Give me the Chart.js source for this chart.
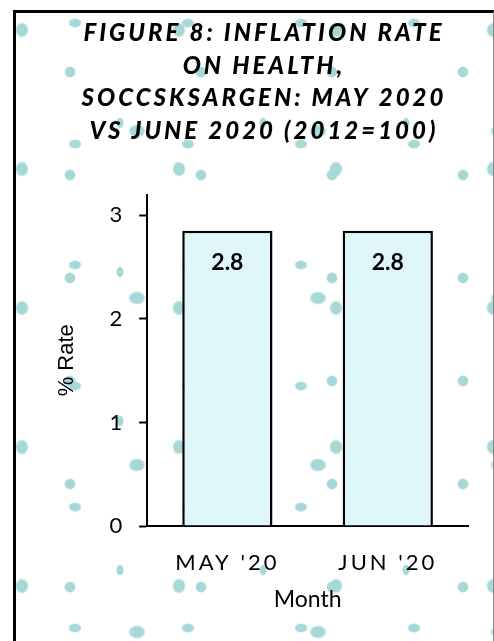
<!DOCTYPE html>
<html>
<head>
<meta charset="utf-8">
<script src="https://cdn.jsdelivr.net/npm/chart.js@4/dist/chart.umd.min.js"></script>
<style>
  html, body { margin: 0; padding: 0; }
  body {
    width: 494px; height: 641px; overflow: hidden; position: relative;
    background-color: #ffffff;
    background-image:
      radial-gradient(ellipse 7px 8px at 22px 30px, #a6d8d7 70%, rgba(166,216,215,0) 100%),
      radial-gradient(ellipse 7px 5px at 64px 18px, #a6d8d7 70%, rgba(166,216,215,0) 100%),
      radial-gradient(circle at 40px 52px, #a6d8d7 4.5px, rgba(166,216,215,0) 6px),
      radial-gradient(ellipse 9px 7px at 80px 90px, #a6d8d7 70%, rgba(166,216,215,0) 100%),
      radial-gradient(ellipse 4px 6px at 30px 110px, #a6d8d7 70%, rgba(166,216,215,0) 100%);
    background-size: 157px 139px, 113px 121px, 131px 103px, 181px 167px, 143px 149px;
    background-position: 0 0, 11px 5px, 30px 20px, 57px 41px, 90px 13px;
  }
  #frame {
    position: absolute; left: 13px; top: 10px; width: 481px; height: 700px;
    box-sizing: border-box;
    border-top: 3px solid #000; border-left: 3px solid #000; border-right: 1px solid #8a8a8a;
    pointer-events: none;
  }
  #wrap { position: absolute; left: 0; top: 0; width: 494px; height: 641px; }
</style>
</head>
<body>
<div id="wrap"><canvas id="c" width="494" height="641"></canvas></div>
<div id="frame"></div>
<script>
// ---- data ----
const categories = ["MAY '20", "JUN '20"];
const rates = [2.85, 2.85];
const rateLabels = ["2.8", "2.8"];
const yTickValues = [0, 1, 2, 3];
const titleLines = [
  "FIGURE 8: INFLATION RATE",
  "ON HEALTH,",
  "SOCCSKSARGEN: MAY 2020",
  "VS JUNE 2020 (2012=100)"
];
const xAxisTitle = "Month";
const yAxisTitle = "% Rate";

// ---- plugins ----
const spacingPlugin = {
  id: 'spacing',
  beforeDraw(chart) {
    const ctx = chart.ctx;
    const tb = chart.titleBlock;
    if (tb && !tb._wrapped) {
      const orig = tb.draw;
      tb.draw = function () {
        ctx.save();
        ctx.letterSpacing = '3px';
        ctx.translate(30, 0);
        orig.apply(this, arguments);
        ctx.restore();
      };
      tb._wrapped = true;
    }
    const xs = chart.scales.x;
    if (xs && !xs._wrapped) {
      const origL = xs.drawLabels;
      xs.drawLabels = function () {
        ctx.save();
        ctx.letterSpacing = '3px';
        origL.apply(this, arguments);
        ctx.restore();
      };
      xs._wrapped = true;
    }
  }
};

const barLabelPlugin = {
  id: 'barLabels',
  afterDatasetsDraw(chart) {
    const ctx = chart.ctx;
    const meta = chart.getDatasetMeta(0);
    ctx.save();
    ctx.font = 'bold 23px Lato, "Open Sans", sans-serif';
    ctx.fillStyle = '#000';
    ctx.textAlign = 'center';
    ctx.textBaseline = 'middle';
    meta.data.forEach((bar, i) => {
      ctx.fillText(rateLabels[i], bar.x, bar.y + 32);
    });
    ctx.restore();
  }
};

new Chart(document.getElementById('c'), {
  type: 'bar',
  data: {
    labels: categories,
    datasets: [{
      data: rates,
      backgroundColor: '#def5f9',
      borderColor: '#000',
      borderWidth: 2.5,
      borderSkipped: 'bottom',
      categoryPercentage: 1,
      barPercentage: 0.5625
    }]
  },
  options: {
    responsive: false,
    animation: false,
    events: [],
    layout: { padding: { top: 0, left: 0, right: 26, bottom: 0 } },
    plugins: {
      legend: { display: false },
      tooltip: { enabled: false },
      title: {
        display: true,
        text: titleLines,
        color: '#000',
        font: { family: 'Lato, "Open Sans", sans-serif', size: 24, weight: 900, style: 'italic', lineHeight: 1.36 },
        padding: { top: 17, bottom: 47 }
      }
    },
    scales: {
      x: {
        grid: { display: false, tickLength: 0 },
        border: { display: true, color: '#000', width: 2 },
        ticks: {
          color: '#000',
          font: { family: 'Lato, "Open Sans", sans-serif', size: 22, lineHeight: 1 },
          padding: 26
        },
        title: {
          display: true,
          text: xAxisTitle,
          color: '#000',
          font: { family: 'Lato, "Open Sans", sans-serif', size: 23, lineHeight: 1 },
          padding: { top: -12, bottom: 30 }
        }
      },
      y: {
        min: 0,
        max: 3.2,
        afterBuildTicks(axis) {
          axis.ticks = yTickValues.map(v => ({ value: v }));
        },
        grid: {
          drawOnChartArea: false,
          drawTicks: true,
          tickLength: 8,
          tickColor: '#000',
          tickWidth: 2
        },
        border: { display: true, color: '#000', width: 2 },
        ticks: {
          color: '#000',
          font: { family: 'Lato, "Open Sans", sans-serif', size: 22 },
          padding: 17
        },
        title: {
          display: true,
          text: yAxisTitle,
          color: '#000',
          font: { family: '"Liberation Sans", Arial, sans-serif', size: 22 },
          padding: { top: 54, bottom: 12 }
        }
      }
    }
  },
  plugins: [spacingPlugin, barLabelPlugin]
});
</script>
</body>
</html>
